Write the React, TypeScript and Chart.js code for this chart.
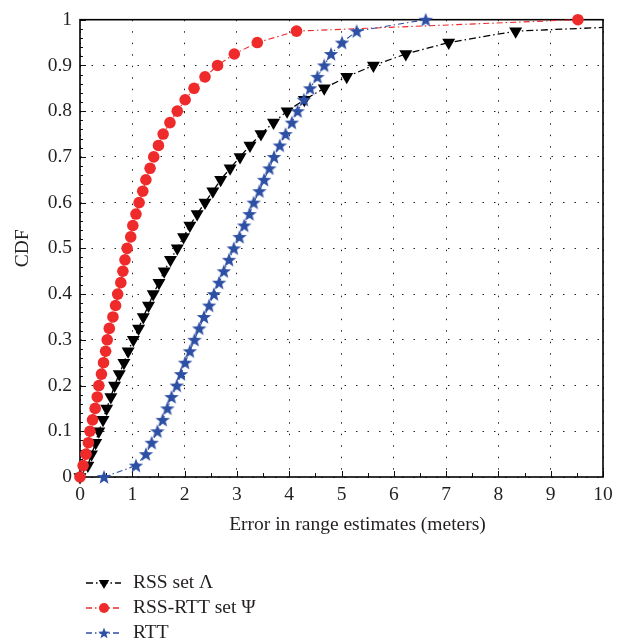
import React, { useEffect, useRef } from 'react';
import { Chart, registerables } from 'chart.js';

Chart.register(...registerables);

// CDF levels shared by all series
const cdfLevels = [
  0, 0.025, 0.05, 0.075, 0.1, 0.125, 0.15, 0.175, 0.2, 0.225,
  0.25, 0.275, 0.3, 0.325, 0.35, 0.375, 0.4, 0.425, 0.45, 0.475,
  0.5, 0.525, 0.55, 0.575, 0.6, 0.625, 0.65, 0.675, 0.7, 0.725,
  0.75, 0.775, 0.8, 0.825, 0.85, 0.875, 0.9, 0.925, 0.95, 0.975, 1,
];

// Error (meters) at each CDF level
const rssSetLambda = [
  0, 0.15, 0.22, 0.3, 0.36, 0.44, 0.51, 0.59, 0.66, 0.75,
  0.84, 0.92, 1.02, 1.12, 1.21, 1.31, 1.4, 1.51, 1.61, 1.73,
  1.86, 1.98, 2.1, 2.24, 2.39, 2.54, 2.69, 2.87, 3.06, 3.25,
  3.46, 3.7, 3.96, 4.29, 4.67, 5.1, 5.61, 6.23, 7.05, 8.33, 13.5,
];

const rssRttSetPsi = [
  0, 0.06, 0.115, 0.16, 0.19, 0.24, 0.29, 0.33, 0.36, 0.41,
  0.45, 0.49, 0.52, 0.56, 0.63, 0.68, 0.72, 0.78, 0.82, 0.86,
  0.9, 0.97, 1.01, 1.07, 1.13, 1.2, 1.26, 1.34, 1.41, 1.5,
  1.59, 1.72, 1.86, 2.01, 2.18, 2.39, 2.63, 2.95, 3.39, 4.14, 9.52,
];

const rttOnly = [
  0.46, 1.07, 1.26, 1.37, 1.48, 1.58, 1.67, 1.75, 1.85, 1.93,
  2.01, 2.1, 2.19, 2.28, 2.37, 2.47, 2.56, 2.66, 2.75, 2.85,
  2.94, 3.05, 3.14, 3.24, 3.32, 3.43, 3.52, 3.62, 3.71, 3.82,
  3.93, 4.05, 4.16, 4.28, 4.4, 4.54, 4.67, 4.8, 5.01, 5.29, 6.61,
];

const seriesLabels = ['RSS set \u039B', 'RSS-RTT set \u03A8', 'RTT'];
const xTickValues = [0, 1, 2, 3, 4, 5, 6, 7, 8, 9, 10];
const yTickValues = [0, 0.1, 0.2, 0.3, 0.4, 0.5, 0.6, 0.7, 0.8, 0.9, 1];
const xTitle = 'Error in range estimates (meters)';
const yTitle = 'CDF';

const FONT = '"Liberation Serif", "DejaVu Serif", serif';
const FS = 19.5;
const TEXT = '#231f20';
const BLACK = '#000000';
const RED = '#ee2a2a';
const BLUE = '#2d4fa4';

function makeStar(color: string, outer: number): HTMLCanvasElement {
  const size = Math.ceil(outer * 2 + 2);
  const c = document.createElement('canvas');
  c.width = size;
  c.height = size;
  const g = c.getContext('2d')!;
  const cx = size / 2;
  const cy = size / 2 + 0.5;
  const inner = outer * 0.42;
  g.beginPath();
  for (let i = 0; i < 10; i++) {
    const r = i % 2 === 0 ? outer : inner;
    const a = -Math.PI / 2 + (i * Math.PI) / 5;
    const px = cx + r * Math.cos(a);
    const py = cy + r * Math.sin(a);
    if (i === 0) g.moveTo(px, py);
    else g.lineTo(px, py);
  }
  g.closePath();
  g.fillStyle = color;
  g.fill();
  return c;
}

export default function App() {
  const ref = useRef<HTMLCanvasElement | null>(null);

  useEffect(() => {
    const canvas = ref.current;
    if (!canvas) return;
    const star = makeStar(BLUE, 7.6);
    const starSmall = makeStar(BLUE, 6);

    const styles = [
      { color: BLACK, dash: [7, 3, 1.5, 3], marker: 'tri' },
      { color: RED, dash: [6, 3, 1.5, 3], marker: 'circle' },
      { color: BLUE, dash: [6, 3, 1.5, 3], marker: 'star' },
    ];

    const framePlugin = {
      id: 'frameAndTicks',
      beforeDatasetsDraw(chart: any) {
        const { ctx, chartArea: a, scales } = chart;
        const x = scales.x;
        const y = scales.y;
        ctx.save();
        ctx.setLineDash([]);
        ctx.strokeStyle = '#111';
        ctx.lineWidth = 1;
        ctx.beginPath();
        for (let v = 0; v <= 10.0001; v += 0.5) {
          const px = Math.round(x.getPixelForValue(v)) + 0.5;
          const len = Math.abs(v - Math.round(v)) < 1e-6 ? 6 : 4;
          ctx.moveTo(px, a.bottom);
          ctx.lineTo(px, a.bottom - len);
        }
        for (let k = 0; k <= 50; k++) {
          const v = k * 0.02;
          const py = Math.round(y.getPixelForValue(v)) + 0.5;
          const len = k % 5 === 0 ? 6 : 3;
          ctx.moveTo(a.left, py);
          ctx.lineTo(a.left + len, py);
        }
        ctx.stroke();
        ctx.strokeStyle = '#000';
        ctx.lineWidth = 1.6;
        ctx.strokeRect(a.left, a.top, a.right - a.left, a.bottom - a.top);
        ctx.restore();
      },
      afterDraw(chart: any) {
        const { ctx } = chart;
        ctx.save();
        // x-axis title (offset to the right as in the original)
        ctx.fillStyle = TEXT;
        ctx.font = `${FS}px ${FONT}`;
        ctx.textBaseline = 'middle';
        ctx.textAlign = 'center';
        ctx.fillText(xTitle, 357.5, 525);

        const rows = [583, 608, 633];
        seriesLabels.forEach((label, i) => {
          const s = styles[i];
          const yy = rows[i];
          ctx.strokeStyle = s.color;
          ctx.lineWidth = 1.4;
          ctx.setLineDash(s.dash);
          ctx.beginPath();
          ctx.moveTo(86, yy);
          ctx.lineTo(121, yy);
          ctx.stroke();
          ctx.setLineDash([]);
          ctx.fillStyle = s.color;
          const mx = 104;
          if (s.marker === 'tri') {
            const r = 6;
            ctx.beginPath();
            ctx.moveTo(mx - r * 0.866, yy - r * 0.5);
            ctx.lineTo(mx + r * 0.866, yy - r * 0.5);
            ctx.lineTo(mx, yy + r);
            ctx.closePath();
            ctx.fill();
          } else if (s.marker === 'circle') {
            ctx.beginPath();
            ctx.arc(mx, yy, 5, 0, Math.PI * 2);
            ctx.fill();
          } else {
            ctx.drawImage(starSmall, mx - starSmall.width / 2, yy - starSmall.height / 2);
          }
          ctx.fillStyle = TEXT;
          ctx.font = `${FS}px ${FONT}`;
          ctx.textBaseline = 'middle';
          ctx.textAlign = 'left';
          ctx.fillText(label, 133, yy);
        });
        ctx.restore();
      },
    };

    const toPoints = (xs: number[]) => xs.map((v, i) => ({ x: v, y: cdfLevels[i] }));

    const chart = new Chart(canvas, {
      type: 'line',
      data: {
        datasets: [
          {
            label: seriesLabels[0],
            data: toPoints(rssSetLambda),
            borderColor: BLACK,
            backgroundColor: BLACK,
            borderWidth: 1.3,
            borderDash: styles[0].dash,
            pointStyle: 'triangle',
            rotation: 180,
            pointRadius: 7.5,
            pointBorderWidth: 0,
            pointBackgroundColor: BLACK,
            tension: 0,
            order: 3,
            clip: { left: 20, top: 20, right: 0, bottom: 20 },
          },
          {
            label: seriesLabels[1],
            data: toPoints(rssRttSetPsi),
            borderColor: RED,
            backgroundColor: RED,
            borderWidth: 1.1,
            borderDash: styles[1].dash,
            pointStyle: 'circle',
            pointRadius: 5.8,
            pointBorderWidth: 0,
            pointBackgroundColor: RED,
            tension: 0,
            order: 2,
            clip: false,
          },
          {
            label: seriesLabels[2],
            data: toPoints(rttOnly),
            borderColor: BLUE,
            backgroundColor: BLUE,
            borderWidth: 1.1,
            borderDash: styles[2].dash,
            pointStyle: star,
            pointRadius: 7,
            tension: 0,
            order: 1,
            clip: false,
          },
        ],
      } as any,
      options: {
        responsive: false,
        animation: false,
        events: [],
        layout: { padding: { left: 0, right: 27, top: 14, bottom: 107 } },
        plugins: {
          legend: { display: false },
          tooltip: { enabled: false },
        },
        scales: {
          x: {
            type: 'linear',
            min: 0,
            max: 10,
            afterBuildTicks: (s: any) => {
              s.ticks = xTickValues.map((v) => ({ value: v }));
            },
            afterFit: (s: any) => {
              s.height = 60;
            },
            ticks: {
              color: TEXT,
              font: { family: FONT, size: FS },
              padding: 6,
              maxRotation: 0,
              callback: (v: any) => String(v),
            },
            grid: {
              color: '#222',
              lineWidth: 1,
              drawTicks: false,
            },
            border: { display: false, dash: [1.5, 10] },
            title: { display: false },
          },
          y: {
            type: 'linear',
            min: 0,
            max: 1,
            afterBuildTicks: (s: any) => {
              s.ticks = yTickValues.map((v) => ({ value: v }));
            },
            afterFit: (s: any) => {
              s.width = 80;
            },
            ticks: {
              color: TEXT,
              font: { family: FONT, size: FS },
              padding: 8,
              callback: (v: any) => String(+Number(v).toFixed(1)),
            },
            grid: {
              color: '#222',
              lineWidth: 1,
              drawTicks: false,
            },
            border: { display: false, dash: [1.5, 10] },
            title: {
              display: true,
              text: yTitle,
              color: TEXT,
              font: { family: FONT, size: FS },
              padding: { top: 11, bottom: 0 },
            },
          },
        },
      } as any,
      plugins: [framePlugin],
    });

    return () => chart.destroy();
  }, []);

  return (
    <div style={{ position: 'absolute', left: 0, top: 0, width: 630, height: 644, background: '#fff' }}>
      <canvas ref={ref} width={630} height={644} style={{ display: 'block', width: 630, height: 644 }} />
    </div>
  );
}
